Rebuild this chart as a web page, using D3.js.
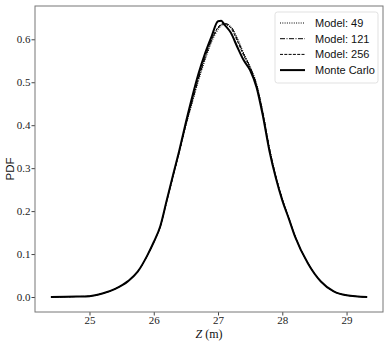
<!DOCTYPE html>
<html>
<head>
<meta charset="utf-8">
<script src="https://cdn.jsdelivr.net/npm/d3@7"></script>
<style>
    body { margin: 0; background: #fff; }
    svg { display: block; }
    .tick text { font-family: "Liberation Serif", "DejaVu Serif", serif; font-size: 11px; fill: #222; }
    .tick line { stroke: #444; }
</style>
</head>
<body>
<svg width="390" height="344"></svg>
<script>
"use strict";

// Z grid shared by all curves (m)
var zGrid = [24.40, 24.80, 25.00, 25.20, 25.40, 25.60, 25.75, 25.90, 26.00,
    26.10, 26.20, 26.30, 26.40, 26.50, 26.60, 26.70, 26.80, 26.90, 27.00,
    27.05, 27.10, 27.20, 27.30, 27.40, 27.50, 27.60, 27.70, 27.80, 27.90,
    28.00, 28.10, 28.20, 28.40, 28.60, 28.80, 29.00, 29.32];

var monteCarlo = [0.000, 0.001, 0.002, 0.008, 0.019, 0.037, 0.059, 0.097,
    0.128, 0.164, 0.224, 0.284, 0.343, 0.407, 0.467, 0.522, 0.568, 0.607,
    0.642, 0.643, 0.634, 0.615, 0.582, 0.551, 0.528, 0.488, 0.420, 0.340,
    0.277, 0.225, 0.183, 0.140, 0.078, 0.036, 0.013, 0.004, 0.000];

var model49 = [0.000, 0.001, 0.002, 0.008, 0.019, 0.037, 0.059, 0.096,
    0.127, 0.162, 0.221, 0.280, 0.338, 0.398, 0.452, 0.505, 0.552, 0.593,
    0.622, 0.631, 0.634, 0.628, 0.603, 0.568, 0.537, 0.497, 0.430, 0.348,
    0.282, 0.229, 0.185, 0.142, 0.079, 0.036, 0.013, 0.004, 0.000];

var model121 = [0.000, 0.001, 0.002, 0.008, 0.019, 0.037, 0.059, 0.096,
    0.127, 0.163, 0.222, 0.281, 0.340, 0.401, 0.456, 0.510, 0.557, 0.598,
    0.626, 0.634, 0.637, 0.630, 0.600, 0.565, 0.535, 0.494, 0.427, 0.346,
    0.281, 0.228, 0.184, 0.141, 0.079, 0.036, 0.013, 0.004, 0.000];

var model256 = [0.000, 0.001, 0.002, 0.008, 0.019, 0.037, 0.059, 0.097,
    0.128, 0.163, 0.222, 0.282, 0.341, 0.403, 0.459, 0.513, 0.560, 0.600,
    0.628, 0.635, 0.636, 0.626, 0.596, 0.562, 0.533, 0.492, 0.425, 0.344,
    0.280, 0.227, 0.184, 0.141, 0.078, 0.036, 0.013, 0.004, 0.000];

var xTicks = [25, 26, 27, 28, 29];
var yTicks = [0.0, 0.1, 0.2, 0.3, 0.4, 0.5, 0.6];

var seriesNames = ["Model: 49", "Model: 121", "Model: 256", "Monte Carlo"];
var seriesValues = [model49, model121, model256, monteCarlo];
var seriesDash = ["1,1.3", "5,1.5,1,1.5", "3,1.3", null];
var seriesWidth = [1, 1, 1, 2];

var svg = d3.select("svg");
var margin = {left: 35, top: 6, right: 7, bottom: 32};
var width = 390 - margin.left - margin.right;
var height = 344 - margin.top - margin.bottom;

var xScale = d3.scaleLinear()
    .domain([24.152, 29.567])
    .range([0, width]);
var yScale = d3.scaleLinear()
    .domain([-0.0349, 0.6775])
    .range([height, 0]);

var g = svg.append("g")
    .attr("transform", "translate(" + margin.left + "," + margin.top + ")");

g.append("g")
    .attr("transform", "translate(0," + height + ")")
    .call(d3.axisBottom(xScale).tickValues(xTicks).tickSize(3.5)
        .tickPadding(1).tickFormat(d3.format("d")))
    .call(function (a) { a.select(".domain").remove(); });

g.append("g")
    .call(d3.axisLeft(yScale).tickValues(yTicks).tickSize(3.5)
        .tickPadding(1).tickFormat(d3.format(".1f")))
    .call(function (a) { a.select(".domain").remove(); });

var line = d3.line()
    .curve(d3.curveMonotoneX)
    .x(function (ignore, i) { return xScale(zGrid[i]); })
    .y(function (d) { return yScale(d); });

seriesValues.forEach(function (vals, i) {
    g.append("path")
        .datum(vals)
        .attr("fill", "none")
        .attr("stroke", "#000")
        .attr("stroke-width", seriesWidth[i])
        .attr("stroke-dasharray", seriesDash[i])
        .attr("stroke-linejoin", "round")
        .attr("d", line);
});

g.append("rect")
    .attr("width", width)
    .attr("height", height)
    .attr("fill", "none")
    .attr("stroke", "#777")
    .attr("stroke-width", 1);

// legend
var legend = g.append("g")
    .attr("transform", "translate(" + (width - 108) + ",6)");
legend.append("rect")
    .attr("width", 103)
    .attr("height", 71)
    .attr("rx", 2.5)
    .attr("fill", "#fff")
    .attr("fill-opacity", 0.8)
    .attr("stroke", "#d9d9d9")
    .attr("stroke-width", 0.8);

seriesNames.forEach(function (name, i) {
    var y = 11 + i * 15.7;
    legend.append("line")
        .attr("x1", 5).attr("x2", 30)
        .attr("y1", y).attr("y2", y)
        .attr("stroke", "#000")
        .attr("stroke-width", seriesWidth[i])
        .attr("stroke-dasharray", seriesDash[i]);
    legend.append("text")
        .attr("x", 40)
        .attr("y", y + 4)
        .attr("font-family", "'Liberation Sans', sans-serif")
        .attr("font-size", 11)
        .attr("fill", "#111")
        .text(name);
});

// axis labels
var xLabel = svg.append("text")
    .attr("x", margin.left + width / 2)
    .attr("y", 338)
    .attr("text-anchor", "middle")
    .attr("font-family", "'Liberation Serif', serif")
    .attr("font-size", 12)
    .attr("fill", "#111");
xLabel.append("tspan").attr("font-style", "italic").text("Z");
xLabel.append("tspan").text(" (m)");

svg.append("text")
    .attr("transform", "translate(14," + (margin.top + height / 2 + 10) +
        ") rotate(-90)")
    .attr("text-anchor", "middle")
    .attr("font-family", "'Liberation Sans', sans-serif")
    .attr("font-size", 11.5)
    .attr("fill", "#111")
    .text("PDF");
</script>
</body>
</html>
